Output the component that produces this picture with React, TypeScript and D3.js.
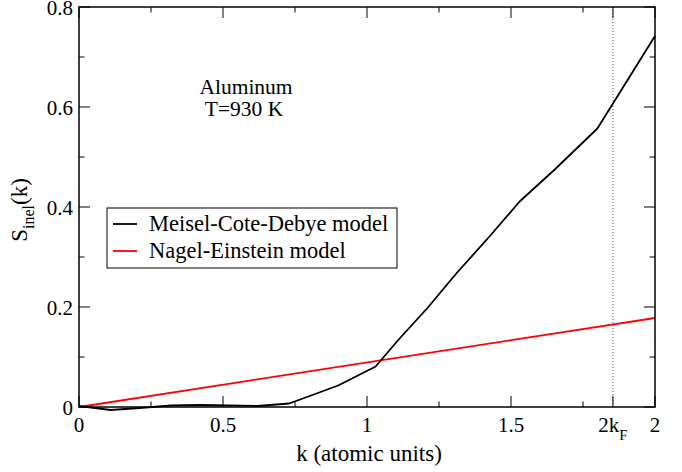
import * as d3 from "d3";

// Meisel-Cote-Debye model (black)
const mcdK = [0, 0.11, 0.21, 0.32, 0.42, 0.52, 0.62, 0.73, 0.9, 1.03, 1.11, 1.21, 1.31, 1.43, 1.53, 1.65, 1.8, 2.0];
const mcdS = [0.002, -0.006, -0.002, 0.003, 0.004, 0.003, 0.002, 0.007, 0.043, 0.081, 0.135, 0.198, 0.267, 0.344, 0.411, 0.474, 0.557, 0.742];

// Nagel-Einstein model (red)
const neK = [0, 2.0];
const neS = [0, 0.178];

const xMajor = [0, 0.5, 1, 1.5, 2];
const xMinor = [0.25, 0.75, 1.25, 1.75];
const yMajor = [0, 0.2, 0.4, 0.6, 0.8];
const yMinor = [0.1, 0.3, 0.5, 0.7];
const twoKF = 1.854;

const legendItems = [
  { label: "Meisel-Cote-Debye model", color: "#000" },
  { label: "Nagel-Einstein model", color: "#ff0000" },
];

const W = 682;
const H = 472;
const margin = { top: 7, right: 27, bottom: 65, left: 79 };

export default function App() {
  const x = d3.scaleLinear().domain([0, 2]).range([margin.left, W - margin.right]);
  const y = d3.scaleLinear().domain([0, 0.8]).range([H - margin.bottom, margin.top]);
  const [x0, x1] = x.range();
  const [y0, y1] = y.range();

  const line = d3
    .line<[number, number]>()
    .x((d) => x(d[0]))
    .y((d) => y(d[1]));

  const mcd = mcdK.map((k, i) => [k, mcdS[i]] as [number, number]);
  const ne = neK.map((k, i) => [k, neS[i]] as [number, number]);

  const majLen = 11;
  const minLen = 5.5;

  return (
    <svg width={W} height={H} style={{ position: "absolute", left: 0, top: 0 }}>
      {/* tick labels */}
      {xMajor.map((v) => (
        <text key={"xl" + v} x={x(v)} y={y0 + 25} textAnchor="middle" fontSize={21} style={{ fontFamily: '"Tinos"' }}>
          {String(v)}
        </text>
      ))}
      <text x={x(twoKF)} y={y0 + 25} textAnchor="middle" fontSize={21} style={{ fontFamily: '"Tinos"' }}>
        2k
        <tspan fontSize={15} dy={8}>F</tspan>
      </text>
      {yMajor.map((v) => (
        <text key={"yl" + v} x={x0 - 6} y={y(v) + 7.5} textAnchor="end" fontSize={21} style={{ fontFamily: '"Tinos"' }}>
          {String(v)}
        </text>
      ))}

      {/* axis titles */}
      <text x={369} y={461} textAnchor="middle" fontSize={23} style={{ fontFamily: '"Tinos"' }}>
        k (atomic units)
      </text>
      <text transform="translate(27,210) rotate(-90)" textAnchor="middle" fontSize={23} style={{ fontFamily: '"Tinos"' }}>
        S
        <tspan fontSize={16} dy={7}>inel</tspan>
        <tspan dy={-7}>(k)</tspan>
      </text>

      {/* annotation */}
      <text x={246} y={94} textAnchor="middle" fontSize={21.5} style={{ fontFamily: '"Tinos"' }}>Aluminum</text>
      <text x={244} y={116} textAnchor="middle" fontSize={21.5} style={{ fontFamily: '"Tinos"' }}>T=930 K</text>

      {/* 2kF dotted marker */}
      <line x1={x(twoKF)} x2={x(twoKF)} y1={y0} y2={y1} stroke="#555" strokeWidth={1} strokeDasharray="1,2" />

      <path d={line(ne) ?? ""} fill="none" stroke="#ff0000" strokeWidth={1.8} />
      <path d={line(mcd) ?? ""} fill="none" stroke="#000" strokeWidth={1.8} strokeLinejoin="round" />

      {/* frame */}
      <rect x={x0} y={y1} width={x1 - x0} height={y0 - y1} fill="none" stroke="#000" strokeWidth={1.5} />

      {/* x ticks, inward on bottom and top */}
      {[...xMajor, twoKF].map((v) => (
        <g key={"xM" + v}>
          <line x1={x(v)} x2={x(v)} y1={y0} y2={y0 - majLen} stroke="#000" strokeWidth={1} />
          <line x1={x(v)} x2={x(v)} y1={y1} y2={y1 + majLen} stroke="#000" strokeWidth={1} />
        </g>
      ))}
      {xMinor.map((v) => (
        <g key={"xm" + v}>
          <line x1={x(v)} x2={x(v)} y1={y0} y2={y0 - minLen} stroke="#000" strokeWidth={1} />
          <line x1={x(v)} x2={x(v)} y1={y1} y2={y1 + minLen} stroke="#000" strokeWidth={1} />
        </g>
      ))}
      {/* y ticks, inward on left and right */}
      {yMajor.map((v) => (
        <g key={"yM" + v}>
          <line x1={x0} x2={x0 + majLen} y1={y(v)} y2={y(v)} stroke="#000" strokeWidth={1} />
          <line x1={x1} x2={x1 - majLen} y1={y(v)} y2={y(v)} stroke="#000" strokeWidth={1} />
        </g>
      ))}
      {yMinor.map((v) => (
        <g key={"ym" + v}>
          <line x1={x0} x2={x0 + minLen} y1={y(v)} y2={y(v)} stroke="#000" strokeWidth={1} />
          <line x1={x1} x2={x1 - minLen} y1={y(v)} y2={y(v)} stroke="#000" strokeWidth={1} />
        </g>
      ))}

      {/* legend */}
      <g transform="translate(107,208)">
        <rect width={290} height={60} fill="#fff" stroke="#000" strokeWidth={1} />
        {legendItems.map((it, i) => (
          <g key={it.label} transform={`translate(0,${16 + i * 27})`}>
            <line x1={6} x2={30} y1={0} y2={0} stroke={it.color} strokeWidth={1.8} />
            <text x={42} y={7} fontSize={22.5} style={{ fontFamily: '"Tinos"' }}>{it.label}</text>
          </g>
        ))}
      </g>
    </svg>
  );
}
